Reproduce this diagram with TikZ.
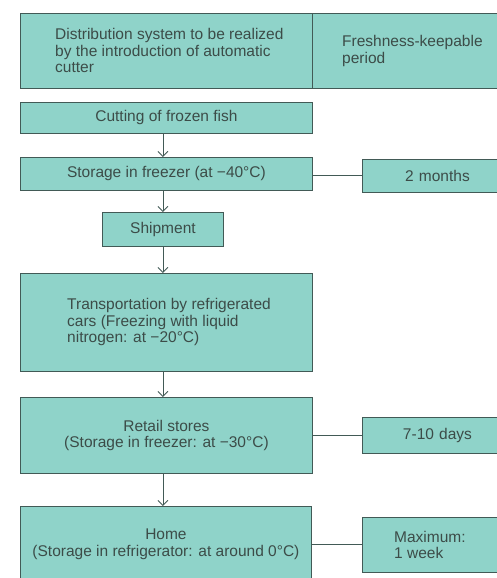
\documentclass[tikz,border=0pt]{standalone}
\usepackage{fontspec}
\setmainfont{Liberation Sans}
\usetikzlibrary{arrows.meta}
\definecolor{boxfill}{RGB}{143,211,201}
\definecolor{boxline}{RGB}{66,90,86}
\definecolor{boxtext}{RGB}{60,76,72}
\newcommand{\boxfont}{\fontsize{15.5}{16.5}\selectfont}
\tikzset{
    cell/.style={draw=boxline, line width=0.9pt, fill=boxfill, anchor=north west,
        inner sep=0pt, text=boxtext, font=\boxfont, align=center},
    txt/.style={inner sep=0pt, text=boxtext, font=\boxfont, align=left, anchor=west},
    flow/.style={draw=boxline, line width=0.9pt, -{Straight Barb[length=5pt,width=10pt]}},
    link/.style={draw=boxline, line width=0.9pt}
}

\begin{document}
\begin{tikzpicture}[x=1pt,y=-1pt]
    \useasboundingbox (0,0) rectangle (496,578);
    \fill[white] (0,0) rectangle (496,578);

    % header row
    \node[cell, minimum width=292pt, minimum height=75pt] (head) at (20,13) {};
    \node[cell, minimum width=200pt, minimum height=75pt] (period) at (312,13) {};
    \node[txt] (headtext) at ([xshift=35pt]head.west)
        {Distribution system to be realized\\by the introduction of automatic\\cutter};
    \node[txt] (periodtext) at ([xshift=30pt]period.west) {Freshness-keepable\\period};

    % flow column
    \node[cell, minimum width=292pt, minimum height=31pt] (cut) at (20,102) {Cutting of frozen fish};
    \node[cell, minimum width=292pt, minimum height=33pt] (store) at (20,157) {Storage in freezer (at −40°C)};
    \node[cell, minimum width=121pt, minimum height=34pt] (ship) at (102,212) {Shipment};
    \node[cell, minimum width=292pt, minimum height=98pt] (trans) at (20,273) {};
    \node[txt] (transtext) at ([xshift=47pt]trans.west)
        {Transportation by refrigerated\\cars (Freezing with liquid\\nitrogen: at −20°C)};
    \node[cell, minimum width=292pt, minimum height=76pt] (retail) at (20,397)
        {Retail stores\\(Storage in freezer: at −30°C)};
    \node[cell, minimum width=291pt, minimum height=76pt] (home) at (20,506)
        {Home\\(Storage in refrigerator: at around 0°C)};

    % periods
    \node[cell, minimum width=150pt, minimum height=33pt, text width=134pt] (months) at (362,159) {2 months};
    \node[cell, minimum width=150pt, minimum height=36pt, text width=134pt] (days) at (362,417) {7-10 days};
    \node[cell, minimum width=150pt, minimum height=55pt] (maxwk) at (362,517) {};
    \node[txt] (maxtext) at ([xshift=32pt]maxwk.west) {Maximum:\\1 week};

    % arrows
    \draw[flow] (ship.north |- cut.south) -- (ship.north |- store.north);
    \draw[flow] (ship.north |- store.south) -- (ship.north);
    \draw[flow] (ship.south) -- (ship.south |- trans.north);
    \draw[flow] (ship.south |- trans.south) -- (ship.south |- retail.north);
    \draw[flow] (ship.south |- retail.south) -- (ship.south |- home.north);

    % links to periods
    \draw[link] ([yshift=-1pt]store.east) -- ([yshift=-1pt]store.east -| months.west);
    \draw[link] (retail.east) -- (retail.east -| days.west);
    \draw[link] (home.east) -- (home.east -| maxwk.west);
\end{tikzpicture}
\end{document}
